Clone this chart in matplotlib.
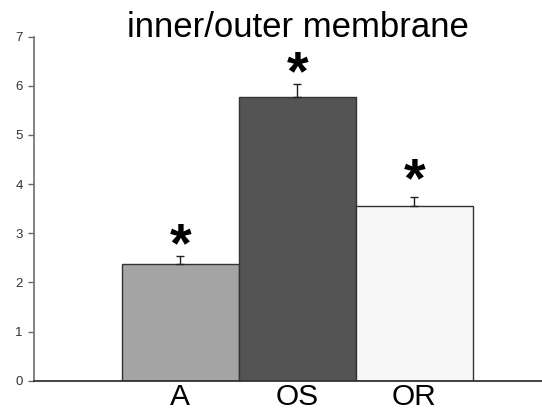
import matplotlib
matplotlib.use("Agg")
import matplotlib.pyplot as plt

plt.rcParams['font.family'] = ['Liberation Sans', 'DejaVu Sans']

# membrane ratio per group
groups = ['A', 'OS', 'OR']
ratio = [2.37, 5.77, 3.56]
sem = [0.17, 0.27, 0.18]
bar_colors = ['#a4a4a4', '#545454', '#f7f7f7']
star_gap = [0.17, 0.18, 0.29]

fig = plt.figure(figsize=(5.42, 4.12), dpi=100)
ax = fig.add_axes([34 / 542, 31.3 / 412, 508 / 542, 344 / 412])

x = list(range(len(groups)))
ax.bar(x, ratio, width=1.0, color=bar_colors, edgecolor='#333333', linewidth=1.0, zorder=2)
ax.errorbar(x, ratio, yerr=[[0] * len(sem), sem], fmt='none', ecolor='#222222',
            elinewidth=1.0, capsize=3, capthick=1.0, zorder=3)

for xi, v, e, g in zip(x, ratio, sem, star_gap):
    ax.text(xi, v + e + g, '*', ha='center', va='center', fontsize=40,
            fontweight='bold', color='black')

ax.set_xlim(-1.25, 3.09)
ax.set_ylim(0, 7)
ax.set_yticks(range(0, 8))
ax.tick_params(axis='y', direction='out', length=4, width=1, color='#666666',
               labelsize=9.5, labelcolor='#333333', pad=4)
ax.set_xticks(x)
ax.set_xticklabels(groups, fontsize=21.5)
ax.tick_params(axis='x', length=0, pad=2)

for s in ['top', 'right']:
    ax.spines[s].set_visible(False)
ax.spines['left'].set_color('#777777')
ax.spines['left'].set_linewidth(1.3)
ax.spines['bottom'].set_color('#333333')
ax.spines['bottom'].set_linewidth(1.3)

fig.text(298 / 542, 1 - 37 / 412, 'inner/outer membrane', ha='center', va='baseline',
         fontsize=25)

fig.savefig('out.png', dpi=100)
